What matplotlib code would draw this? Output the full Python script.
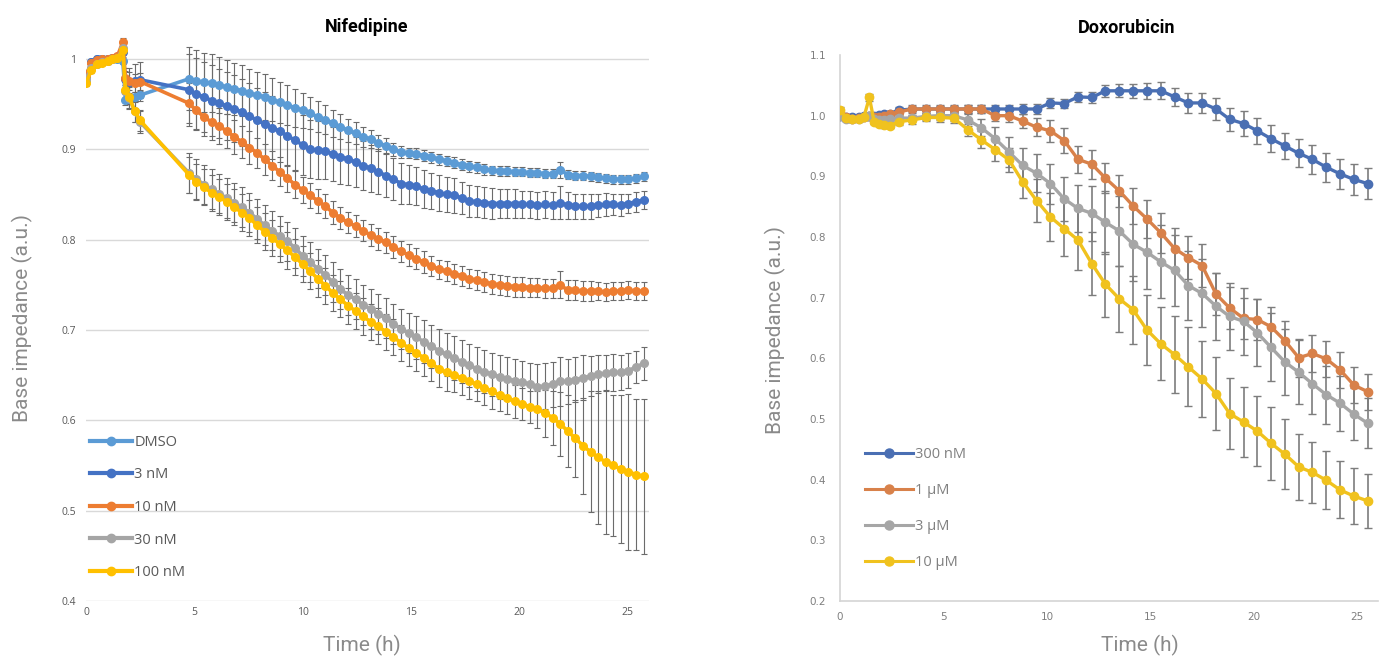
import matplotlib
matplotlib.use('Agg')
import matplotlib.pyplot as plt
from matplotlib.lines import Line2D
from matplotlib.ticker import FuncFormatter

# ---------------- Nifedipine (left) ----------------
nif_time = [0, 0.25, 0.5, 0.75, 1.0, 1.2, 1.45, 1.7, 1.82, 2.0, 2.25, 2.5,
            4.75, 5.10, 5.45, 5.80, 6.15, 6.50, 6.85, 7.20, 7.55, 7.90,
            8.25, 8.60, 8.95, 9.30, 9.65, 10.00, 10.35, 10.70, 11.05, 11.40,
            11.75, 12.10, 12.45, 12.80, 13.15, 13.50, 13.85, 14.20, 14.55, 14.90,
            15.25, 15.60, 15.95, 16.30, 16.65, 17.00, 17.35, 17.70, 18.05, 18.40,
            18.75, 19.10, 19.45, 19.80, 20.15, 20.50, 20.85, 21.20, 21.55, 21.90,
            22.25, 22.60, 22.95, 23.30, 23.65, 24.00, 24.35, 24.70, 25.05, 25.40,
            25.75]

nif_labels = ['DMSO', '3 nM', '10 nM', '30 nM', '100 nM']

nif_dmso = [0.975, 0.997, 1.000, 1.000, 1.000, 1.000, 1.000, 0.998, 0.955, 0.956, 0.958, 0.960,
            0.978, 0.976, 0.974, 0.973, 0.971, 0.969, 0.967, 0.965, 0.962, 0.960,
            0.958, 0.955, 0.952, 0.949, 0.946, 0.943, 0.940, 0.936, 0.933, 0.929,
            0.925, 0.921, 0.918, 0.914, 0.911, 0.907, 0.904, 0.900, 0.897, 0.896,
            0.895, 0.893, 0.891, 0.889, 0.887, 0.885, 0.883, 0.881, 0.880, 0.878,
            0.877, 0.876, 0.876, 0.875, 0.875, 0.874, 0.874, 0.873, 0.873, 0.877,
            0.872, 0.871, 0.871, 0.870, 0.869, 0.868, 0.867, 0.867, 0.867, 0.868,
            0.870]
nif_3nm = [0.980, 0.997, 1.000, 1.000, 1.000, 1.001, 1.002, 1.008, 0.978, 0.975, 0.976, 0.977,
           0.966, 0.961, 0.958, 0.954, 0.951, 0.948, 0.945, 0.941, 0.937, 0.932,
           0.928, 0.924, 0.920, 0.915, 0.910, 0.905, 0.900, 0.899, 0.898, 0.895,
           0.892, 0.889, 0.886, 0.882, 0.879, 0.875, 0.871, 0.867, 0.862, 0.861,
           0.859, 0.856, 0.854, 0.852, 0.850, 0.849, 0.846, 0.843, 0.842, 0.841,
           0.840, 0.840, 0.840, 0.840, 0.839, 0.839, 0.838, 0.839, 0.838, 0.841,
           0.838, 0.837, 0.837, 0.837, 0.838, 0.839, 0.839, 0.838, 0.840, 0.842,
           0.844]
nif_10nm = [0.982, 0.996, 0.999, 1.000, 1.000, 1.001, 1.003, 1.019, 0.979, 0.976, 0.973, 0.975,
            0.951, 0.943, 0.936, 0.930, 0.926, 0.920, 0.914, 0.908, 0.902, 0.896,
            0.889, 0.882, 0.875, 0.868, 0.861, 0.855, 0.849, 0.843, 0.837, 0.830,
            0.824, 0.819, 0.815, 0.810, 0.805, 0.801, 0.797, 0.792, 0.787, 0.783,
            0.779, 0.775, 0.771, 0.767, 0.765, 0.762, 0.760, 0.757, 0.755, 0.753,
            0.751, 0.750, 0.749, 0.748, 0.748, 0.747, 0.747, 0.746, 0.746, 0.750,
            0.744, 0.744, 0.743, 0.743, 0.743, 0.742, 0.743, 0.743, 0.744, 0.743,
            0.743]
nif_30nm = [0.978, 0.990, 0.995, 0.997, 0.998, 1.000, 1.001, 1.012, 0.965, 0.957, 0.942, 0.930,
            0.874, 0.867, 0.861, 0.856, 0.851, 0.846, 0.841, 0.836, 0.830, 0.823,
            0.816, 0.810, 0.804, 0.798, 0.791, 0.782, 0.775, 0.768, 0.761, 0.753,
            0.745, 0.739, 0.734, 0.728, 0.723, 0.718, 0.713, 0.707, 0.701, 0.697,
            0.692, 0.687, 0.682, 0.677, 0.673, 0.669, 0.665, 0.661, 0.657, 0.654,
            0.651, 0.648, 0.646, 0.644, 0.642, 0.640, 0.637, 0.638, 0.640, 0.643,
            0.643, 0.645, 0.647, 0.649, 0.651, 0.652, 0.653, 0.653, 0.655, 0.659,
            0.663]
nif_100nm = [0.973, 0.988, 0.994, 0.996, 0.998, 1.000, 1.001, 1.010, 0.966, 0.958, 0.942, 0.932,
             0.872, 0.864, 0.858, 0.852, 0.847, 0.842, 0.836, 0.830, 0.824, 0.816,
             0.809, 0.802, 0.795, 0.788, 0.781, 0.773, 0.765, 0.757, 0.749, 0.741,
             0.734, 0.727, 0.721, 0.715, 0.709, 0.704, 0.698, 0.692, 0.686, 0.680,
             0.675, 0.669, 0.663, 0.657, 0.653, 0.650, 0.647, 0.643, 0.640, 0.636,
             0.632, 0.628, 0.625, 0.621, 0.618, 0.615, 0.612, 0.608, 0.603, 0.596,
             0.588, 0.580, 0.572, 0.565, 0.559, 0.554, 0.550, 0.546, 0.543, 0.540,
             0.538]

nif_dmso_err = [0.003, 0.003, 0.003, 0.003, 0.003, 0.003, 0.003, 0.004, 0.006, 0.006, 0.006, 0.006,
                0.035, 0.034, 0.033, 0.032, 0.031, 0.030, 0.029, 0.028, 0.027, 0.026,
                0.025, 0.024, 0.023, 0.022, 0.021, 0.019, 0.018, 0.017, 0.016, 0.015,
                0.014, 0.013, 0.012, 0.011, 0.010, 0.009, 0.008, 0.007, 0.007, 0.006,
                0.006, 0.006, 0.006, 0.006, 0.006, 0.006, 0.006, 0.006, 0.006, 0.006,
                0.005, 0.005, 0.005, 0.005, 0.005, 0.005, 0.005, 0.005, 0.005, 0.009,
                0.005, 0.005, 0.005, 0.005, 0.005, 0.005, 0.005, 0.005, 0.005, 0.005,
                0.005]
nif_3nm_err = [0.003, 0.003, 0.003, 0.003, 0.003, 0.003, 0.003, 0.004, 0.012, 0.015, 0.018, 0.020,
               0.040, 0.040, 0.039, 0.039, 0.038, 0.038, 0.037, 0.037, 0.036, 0.036,
               0.035, 0.035, 0.034, 0.034, 0.033, 0.033, 0.032, 0.032, 0.031, 0.030,
               0.030, 0.029, 0.028, 0.027, 0.026, 0.025, 0.024, 0.023, 0.023, 0.022,
               0.021, 0.021, 0.020, 0.020, 0.019, 0.019, 0.018, 0.018, 0.017, 0.017,
               0.017, 0.016, 0.016, 0.016, 0.015, 0.015, 0.015, 0.015, 0.015, 0.018,
               0.015, 0.014, 0.014, 0.014, 0.013, 0.013, 0.012, 0.012, 0.011, 0.011,
               0.010]
nif_10nm_err = [0.003, 0.003, 0.003, 0.003, 0.003, 0.003, 0.003, 0.004, 0.008, 0.010, 0.010, 0.010,
                0.022, 0.021, 0.021, 0.020, 0.020, 0.019, 0.019, 0.018, 0.018, 0.017,
                0.017, 0.016, 0.016, 0.015, 0.015, 0.014, 0.014, 0.013, 0.013, 0.013,
                0.012, 0.012, 0.012, 0.012, 0.012, 0.012, 0.012, 0.012, 0.012, 0.012,
                0.012, 0.012, 0.011, 0.011, 0.011, 0.011, 0.011, 0.011, 0.011, 0.011,
                0.011, 0.011, 0.011, 0.011, 0.011, 0.011, 0.011, 0.011, 0.011, 0.015,
                0.011, 0.011, 0.011, 0.011, 0.010, 0.010, 0.010, 0.010, 0.010, 0.010,
                0.010]
nif_30nm_err = [0.003, 0.003, 0.003, 0.003, 0.003, 0.003, 0.003, 0.004, 0.010, 0.012, 0.012, 0.012,
                0.022, 0.022, 0.022, 0.022, 0.022, 0.022, 0.022, 0.022, 0.022, 0.022,
                0.022, 0.022, 0.022, 0.022, 0.022, 0.022, 0.022, 0.022, 0.022, 0.022,
                0.022, 0.022, 0.022, 0.022, 0.022, 0.022, 0.022, 0.022, 0.022, 0.022,
                0.024, 0.024, 0.024, 0.024, 0.024, 0.024, 0.024, 0.024, 0.024, 0.024,
                0.024, 0.024, 0.024, 0.024, 0.024, 0.024, 0.025, 0.025, 0.025, 0.027,
                0.025, 0.025, 0.025, 0.022, 0.021, 0.020, 0.020, 0.019, 0.019, 0.018,
                0.018]
nif_100nm_err = [0.003, 0.003, 0.003, 0.003, 0.003, 0.003, 0.003, 0.004, 0.010, 0.012, 0.012, 0.012,
                 0.020, 0.020, 0.020, 0.020, 0.020, 0.020, 0.020, 0.020, 0.020, 0.020,
                 0.020, 0.020, 0.020, 0.020, 0.020, 0.020, 0.020, 0.020, 0.020, 0.020,
                 0.020, 0.020, 0.020, 0.020, 0.020, 0.020, 0.020, 0.020, 0.020, 0.020,
                 0.020, 0.020, 0.020, 0.020, 0.020, 0.019, 0.019, 0.019, 0.019, 0.019,
                 0.019, 0.018, 0.018, 0.018, 0.018, 0.018, 0.020, 0.026, 0.030, 0.035,
                 0.040, 0.043, 0.053, 0.067, 0.074, 0.080, 0.078, 0.082, 0.086, 0.084,
                 0.086]

nif_colors = ['#5B9BD5', '#4472C4', '#ED7D31', '#A5A5A5', '#FFC000']

# ---------------- Doxorubicin (right) ----------------
dox_time = [0, 0.3, 0.6, 0.9, 1.15, 1.42, 1.65, 1.9, 2.15, 2.4,
            2.83, 3.50, 4.17, 4.83, 5.50, 6.17, 6.83, 7.50, 8.17, 8.83,
            9.50, 10.17, 10.83, 11.50, 12.17, 12.83, 13.50, 14.17, 14.83, 15.50,
            16.17, 16.83, 17.50, 18.17, 18.83, 19.50, 20.17, 20.83, 21.50, 22.17,
            22.83, 23.50, 24.17, 24.83, 25.50]

dox_labels = ['300 nM', '1 µM', '3 µM', '10 µM']

dox_300nm = [1.000, 0.998, 0.997, 0.998, 0.999, 1.000, 1.000, 1.001, 1.002, 1.003,
             1.009, 1.011, 1.011, 1.011, 1.011, 1.011, 1.011, 1.011, 1.011, 1.011,
             1.011, 1.021, 1.020, 1.031, 1.030, 1.041, 1.041, 1.041, 1.041, 1.041,
             1.031, 1.021, 1.021, 1.011, 0.994, 0.987, 0.975, 0.962, 0.950, 0.938,
             0.928, 0.915, 0.904, 0.895, 0.888]
dox_1um = [1.005, 0.997, 0.995, 0.996, 0.998, 1.000, 0.998, 0.997, 1.000, 1.003,
           1.006, 1.011, 1.011, 1.011, 1.011, 1.011, 1.011, 1.000, 1.000, 0.991,
           0.981, 0.975, 0.959, 0.928, 0.920, 0.897, 0.876, 0.851, 0.830, 0.807,
           0.781, 0.766, 0.753, 0.706, 0.683, 0.666, 0.664, 0.652, 0.629, 0.601,
           0.608, 0.599, 0.581, 0.556, 0.545]
dox_3um = [1.000, 0.995, 0.994, 0.995, 0.997, 1.000, 0.995, 0.993, 0.993, 0.994,
           0.996, 0.996, 0.999, 1.000, 1.000, 0.993, 0.980, 0.962, 0.940, 0.918,
           0.905, 0.888, 0.863, 0.847, 0.839, 0.824, 0.810, 0.788, 0.775, 0.759,
           0.745, 0.720, 0.707, 0.686, 0.669, 0.661, 0.642, 0.618, 0.594, 0.577,
           0.558, 0.540, 0.526, 0.508, 0.493]
dox_10um = [1.010, 0.996, 0.995, 0.995, 0.997, 1.030, 0.990, 0.987, 0.984, 0.983,
            0.990, 0.993, 0.997, 0.997, 0.996, 0.977, 0.960, 0.944, 0.927, 0.891,
            0.860, 0.833, 0.814, 0.795, 0.756, 0.722, 0.698, 0.680, 0.647, 0.624,
            0.606, 0.586, 0.566, 0.542, 0.509, 0.495, 0.480, 0.460, 0.442, 0.421,
            0.412, 0.399, 0.383, 0.373, 0.365]

dox_300nm_err = [0.003, 0.003, 0.003, 0.003, 0.003, 0.003, 0.003, 0.003, 0.003, 0.003,
                 0.005, 0.006, 0.006, 0.006, 0.006, 0.006, 0.007, 0.007, 0.007, 0.008,
                 0.008, 0.008, 0.008, 0.008, 0.009, 0.010, 0.011, 0.012, 0.013, 0.014,
                 0.015, 0.016, 0.017, 0.018, 0.019, 0.020, 0.021, 0.022, 0.022, 0.023,
                 0.024, 0.024, 0.025, 0.026, 0.026]
dox_1um_err = [0.004, 0.004, 0.004, 0.004, 0.004, 0.004, 0.004, 0.004, 0.004, 0.004,
               0.004, 0.004, 0.004, 0.005, 0.005, 0.006, 0.007, 0.008, 0.010, 0.012,
               0.015, 0.018, 0.020, 0.022, 0.024, 0.025, 0.027, 0.029, 0.031, 0.033,
               0.034, 0.035, 0.035, 0.035, 0.034, 0.034, 0.033, 0.033, 0.032, 0.031,
               0.031, 0.030, 0.030, 0.030, 0.030]
dox_3um_err = [0.004, 0.004, 0.004, 0.004, 0.004, 0.004, 0.004, 0.004, 0.004, 0.004,
               0.005, 0.005, 0.006, 0.007, 0.008, 0.010, 0.014, 0.020, 0.025, 0.029,
               0.031, 0.033, 0.036, 0.038, 0.045, 0.052, 0.058, 0.060, 0.060, 0.060,
               0.058, 0.057, 0.056, 0.055, 0.055, 0.055, 0.055, 0.056, 0.055, 0.053,
               0.050, 0.048, 0.045, 0.043, 0.041]
dox_10um_err = [0.004, 0.004, 0.004, 0.004, 0.004, 0.006, 0.004, 0.004, 0.004, 0.004,
                0.006, 0.006, 0.006, 0.007, 0.008, 0.010, 0.014, 0.018, 0.020, 0.026,
                0.035, 0.040, 0.045, 0.050, 0.052, 0.054, 0.055, 0.056, 0.058, 0.060,
                0.063, 0.065, 0.063, 0.060, 0.059, 0.058, 0.058, 0.060, 0.058, 0.055,
                0.050, 0.048, 0.047, 0.046, 0.045]

dox_colors = ['#4a6fb3', '#d8814a', '#a6a6a6', '#f0c21e']

# ---------------- figure ----------------
W, H = 1383, 657
fig = plt.figure(figsize=(W / 100, H / 100), dpi=100)

label_font = dict(family='Roboto', fontsize=15, color='#8a8a8a')

# Left axes
axL = fig.add_axes([86 / W, 1 - 601 / H, 563 / W, 564.6 / H])
axL.set_xlim(0, 26)
axL.set_ylim(0.4, 1.025)
nif_series = [nif_dmso, nif_3nm, nif_10nm, nif_30nm, nif_100nm]
nif_errs = [nif_dmso_err, nif_3nm_err, nif_10nm_err, nif_30nm_err, nif_100nm_err]
for vals, errs, c in zip(nif_series, nif_errs, nif_colors):
    axL.errorbar(nif_time, vals, yerr=errs, fmt='none', ecolor='#6b6b6b',
                 elinewidth=0.8, capsize=2.5, capthick=0.8, zorder=2)
for vals, c in zip(nif_series, nif_colors):
    axL.plot(nif_time, vals, color=c, lw=2.6, marker='o', ms=5.5, zorder=3)
axL.set_yticks([0.4, 0.5, 0.6, 0.7, 0.8, 0.9, 1.0])
axL.set_xticks([0, 5, 10, 15, 20, 25])
axL.yaxis.set_major_formatter(FuncFormatter(lambda v, p: f'{round(v, 2):g}'))
axL.grid(axis='y', color='#d9d9d9', lw=1)
axL.set_axisbelow(True)
for s in axL.spines.values():
    s.set_visible(False)
axL.tick_params(length=0, labelsize=7.5, labelcolor='#595959')
axL.tick_params(axis='y', pad=7)
axL.tick_params(axis='x', pad=4)
for t in axL.get_xticklabels() + axL.get_yticklabels():
    t.set_family('Open Sans')

handlesL = [Line2D([], [], color=c, lw=3, marker='o', ms=6) for c in nif_colors]
fig.legend(handlesL, nif_labels, loc='upper left',
           bbox_to_anchor=(90 / W, 1 - 435 / H), bbox_transform=fig.transFigure,
           frameon=False, borderpad=0, borderaxespad=0, handlelength=2.9,
           handletextpad=0.15, labelspacing=1.2,
           prop=dict(family='Open Sans', size=10.5), labelcolor='#595959')

fig.text(367 / W, 1 - 27 / H, 'Nifedipine', ha='center', va='center',
         family='Roboto', fontsize=13, fontweight='bold', color='#000000')
fig.text(22 / W, 1 - 318 / H, 'Base impedance (a.u.)', rotation=90,
         ha='center', va='center', **label_font)
fig.text(362 / W, 1 - 645 / H, 'Time (h)', ha='center', va='center', **label_font)

# Right axes
axR = fig.add_axes([840 / W, 1 - 601 / H, 538 / W, 546 / H])
axR.set_xlim(0, 26)
axR.set_ylim(0.2, 1.1)
dox_series = [dox_300nm, dox_1um, dox_3um, dox_10um]
dox_errs = [dox_300nm_err, dox_1um_err, dox_3um_err, dox_10um_err]
for vals, errs, c in zip(dox_series, dox_errs, dox_colors):
    axR.errorbar(dox_time, vals, yerr=errs, fmt='none', ecolor='#7d7d7d',
                 elinewidth=1.2, capsize=3, capthick=1.0, zorder=2)
for vals, c in zip(dox_series, dox_colors):
    axR.plot(dox_time, vals, color=c, lw=2.4, marker='o', ms=6, zorder=3)
axR.set_yticks([0.2, 0.3, 0.4, 0.5, 0.6, 0.7, 0.8, 0.9, 1.0, 1.1])
axR.set_xticks([0, 5, 10, 15, 20, 25])
axR.yaxis.set_major_formatter(FuncFormatter(lambda v, p: f'{v:.1f}'))
for k in ['top', 'right']:
    axR.spines[k].set_visible(False)
for k in ['left', 'bottom']:
    axR.spines[k].set_color('#d4d4d4')
    axR.spines[k].set_linewidth(1.2)
axR.tick_params(length=0, labelsize=7.5, labelcolor='#7f7f7f')
axR.tick_params(axis='y', pad=10)
axR.tick_params(axis='x', pad=8)

handlesR = [Line2D([], [], color=c, lw=2.2, marker='o', ms=6.5) for c in dox_colors]
fig.legend(handlesR, dox_labels, loc='upper left',
           bbox_to_anchor=(865 / W, 1 - 447 / H), bbox_transform=fig.transFigure,
           frameon=False, borderpad=0, borderaxespad=0, handlelength=3.3,
           handletextpad=0.15, labelspacing=1.45,
           prop=dict(family='Open Sans', size=10.5), labelcolor='#808080')

fig.text(1127 / W, 1 - 28 / H, 'Doxorubicin', ha='center', va='center',
         family='Roboto', fontsize=13, fontweight='bold', color='#000000')
fig.text(775 / W, 1 - 330 / H, 'Base impedance (a.u.)', rotation=90,
         ha='center', va='center', **label_font)
fig.text(1140 / W, 1 - 645 / H, 'Time (h)', ha='center', va='center', **label_font)

fig.savefig('out.png', dpi=100, facecolor='white')
